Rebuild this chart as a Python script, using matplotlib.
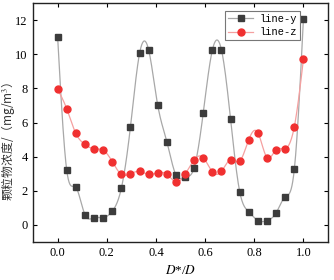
import numpy as np
import matplotlib
matplotlib.use("Agg")
import matplotlib.pyplot as plt

# values (28 stations across D*/D)
n_points = 28
line_y = [11.0, 3.2, 2.2, 0.6, 0.42, 0.42, 0.8, 2.15, 5.75, 10.05,
          10.25, 7.0, 4.87, 2.92, 2.8, 3.35, 6.58, 10.25, 10.25, 6.19,
          1.95, 0.77, 0.25, 0.25, 0.7, 1.65, 3.25, 12.05]
line_z = [7.95, 6.8, 5.36, 4.72, 4.45, 4.38, 3.71, 2.96, 3.0, 3.13,
          2.96, 3.05, 2.97, 2.52, 2.96, 3.82, 3.94, 3.1, 3.14, 3.82,
          3.73, 5.0, 5.4, 3.94, 4.41, 4.46, 5.75, 9.7]
x_ticks = [0.0, 0.2, 0.4, 0.6, 0.8, 1.0]
y_ticks = [0, 2, 4, 6, 8, 10, 12]


def natural_spline(x, y, num=600):
    # natural cubic spline through the points, like Origin's "Spline" connector
    x = np.asarray(x, float)
    y = np.asarray(y, float)
    n = len(x)
    h = np.diff(x)
    A = np.zeros((n, n))
    b = np.zeros(n)
    A[0, 0] = A[-1, -1] = 1.0
    for i in range(1, n - 1):
        A[i, i - 1] = h[i - 1]
        A[i, i] = 2 * (h[i - 1] + h[i])
        A[i, i + 1] = h[i]
        b[i] = 6 * ((y[i + 1] - y[i]) / h[i] - (y[i] - y[i - 1]) / h[i - 1])
    M = np.linalg.solve(A, b)
    xs = np.linspace(x[0], x[-1], num)
    idx = np.clip(np.searchsorted(x, xs) - 1, 0, n - 2)
    x0, x1 = x[idx], x[idx + 1]
    hh = x1 - x0
    t0, t1 = x1 - xs, xs - x0
    ys = (M[idx] * t0 ** 3 + M[idx + 1] * t1 ** 3) / (6 * hh) \
        + (y[idx] / hh - M[idx] * hh / 6) * t0 \
        + (y[idx + 1] / hh - M[idx + 1] * hh / 6) * t1
    return xs, ys


x = np.linspace(0, 1, n_points)

plt.rcParams["font.family"] = ["Liberation Serif", "DejaVu Serif"]
plt.rcParams["mathtext.fontset"] = "stix"

fig = plt.figure(figsize=(3.34, 2.8), dpi=100)
ax = fig.add_axes([0.099, 0.136, 0.883, 0.853])

series = [
    ("line-y", line_y, "s", "#3c3c3c", "#a8a8a8", 4.0),
    ("line-z", line_z, "o", "#f03030", "#f5a0a0", 5.0),
]
for label, vals, marker, mcolor, lcolor, ms in series:
    xs, ys = natural_spline(x, vals)
    ax.plot(xs, ys, color=lcolor, lw=0.9, zorder=2)
    ax.plot(x, vals, ls="none", marker=marker, ms=ms, color=mcolor,
            mec=mcolor, zorder=3)
    # legend proxy
    ax.plot([], [], color=lcolor, lw=0.9, marker=marker, ms=ms,
            mfc=mcolor, mec=mcolor, label=label)

ax.set_xlim(-0.1, 1.1)
ax.set_ylim(-1, 13)
ax.set_xticks(x_ticks)
ax.set_xticklabels([f"{v:.1f}" for v in x_ticks])
ax.set_yticks(y_ticks)
ax.tick_params(direction="in", length=3, width=0.8, labelsize=9,
               top=True, right=True, pad=4)
for sp in ax.spines.values():
    sp.set_linewidth(1.0)
    sp.set_color("#222222")

ax.set_xlabel("$D$*/$D$", fontsize=9.5, labelpad=3)
ax.set_ylabel("颗粒物浓度/（mg/m$^3$）", fontsize=8.5,
              family=["Noto Sans CJK SC", "DejaVu Sans"], color="#333333")
ax.yaxis.set_label_coords(-0.055, 0.42)

leg = ax.legend(loc="upper right", bbox_to_anchor=(0.905, 0.967),
                prop={"family": "Liberation Mono", "size": 7.5},
                fancybox=False, edgecolor="#777777", framealpha=1,
                handlelength=2.4, borderpad=0.3, labelspacing=0.3,
                handletextpad=0.6, borderaxespad=0.0)
leg.get_frame().set_linewidth(0.8)

fig.savefig("out.png", dpi=100)
